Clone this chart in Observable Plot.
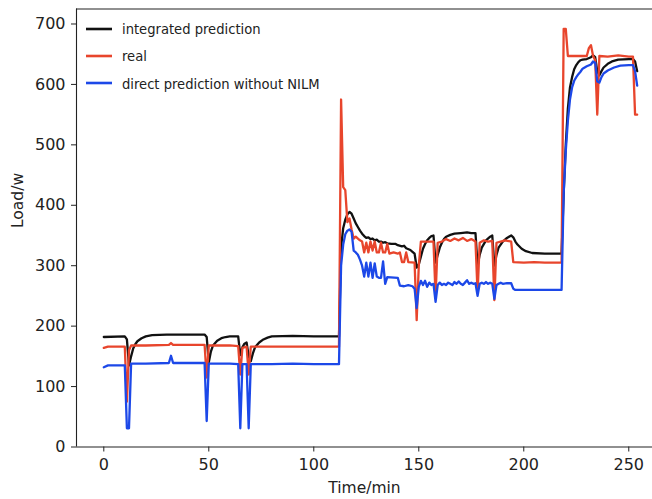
<!DOCTYPE html>
<html>
<head>
<meta charset="utf-8">
<script src="https://cdn.jsdelivr.net/npm/d3@7"></script>
<script src="https://cdn.jsdelivr.net/npm/@observablehq/plot@0.6"></script>
<style>
  html, body { margin: 0; padding: 0; background: #fff; }
  #wrap { position: relative; width: 652px; height: 499px; overflow: hidden; }
  #legend { position: absolute; left: 84px; top: 15px; font-family: "DejaVu Sans Condensed", "DejaVu Sans", sans-serif; font-size: 14.6px; color: #222; }
  #legend .row { display: flex; align-items: center; height: 27.3px; }
  #legend svg { width: 30px; height: 10px; margin-right: 8px; }
</style>
</head>
<body>
<div id="wrap"><div id="legend"></div></div>
<script>
// Series names (legend order)
const seriesNames = ["integrated prediction", "real", "direct prediction without NILM"];

// [time (min), load (w)]
const integrated = [
  [0,182],[10,183],[11,178],[12,135],[13,150],[14,163],[15,170],[16,175],[18,180],[20,183],[23,185],[30,186],[40,186],[48,186],
  [49,182],[50,140],[51,158],[52,168],[54,176],[56,180],[58,182],[60,183],[64,183],[65,152],[66,165],[67,171],[68,173],[69,150],
  [70,142],[71,155],[72,165],[74,173],[76,178],[78,181],[80,183],[90,184],[100,183],[112,183],
  [113,330],[114,362],[115,376],[116,385],[117,389],[118,386],[119,378],[120,370],[121,364],[122,358],[123,353],[124,349],[125,346],
  [126,347],[127,344],[128,345],[129,342],[130,343],[131,340],[132,340],[133,338],[134,339],[135,337],[137,336],[139,336],[140,334],
  [142,332],[143,333],[144,329],[146,326],[147,323],[148,320],[149,297],[150,302],[151,315],[152,328],[153,336],[154,342],[155,346],
  [156,349],[157,350],[158,305],[159,318],[160,330],[161,338],[162,344],[163,348],[165,351],[167,353],[170,354],[173,355],[175,354],
  [177,354],[178,300],[179,318],[180,330],[182,342],[184,348],[185,350],[186,300],[187,318],[188,330],[190,340],[192,346],[194,350],
  [195,347],[196,340],[197,335],[199,328],[201,324],[204,321],[210,320],[218,320],
  [219,420],[220,500],[221,560],[222,595],[223,612],[224,625],[225,632],[226,637],[227,640],[228,641],[230,642],[232,645],[233,648],
  [234,645],[235,622],[236,615],[237,622],[238,628],[240,634],[242,638],[245,641],[250,642],[252,642],[253,638],[254,622]
];

const real = [
  [0,164],[2,166],[10,166],[11,75],[12,160],[13,168],[20,168],[31,169],[32,172],[33,169],[48,169],[49,115],[50,168],[60,168],
  [64,167],[65,120],[66,164],[68,166],[69,120],[70,166],[80,166],[112,166],
  [113,575],[114,430],[115,425],[116,372],[117,378],[118,360],[119,345],[120,348],[121,345],[122,342],[123,340],[124,322],[125,338],
  [126,322],[127,340],[128,325],[129,340],[130,322],[131,322],[132,338],[133,322],[134,322],[135,336],[136,320],[138,322],[140,320],
  [141,322],[142,306],[143,306],[144,322],[145,306],[148,305],[149,210],[150,300],[151,340],[157,340],[158,250],[159,338],[161,340],
  [163,344],[165,341],[167,345],[169,342],[171,346],[173,341],[175,344],[177,340],[178,255],[179,338],[181,342],[183,340],[185,341],
  [186,243],[187,338],[189,340],[191,342],[194,340],[195,306],[200,305],[205,306],[210,305],[218,305],
  [219,692],[220,692],[221,647],[230,647],[231,660],[232,665],[233,647],[234,640],[235,550],[236,647],[240,646],[245,648],[250,646],
  [252,646],[253,550],[254,550]
];

const direct = [
  [0,132],[2,135],[10,135],[11,31],[12,31],[13,138],[20,138],[31,139],[32,151],[33,139],[48,139],[49,43],[50,138],[60,138],
  [64,137],[65,31],[66,137],[68,137],[69,31],[70,137],[80,137],[90,138],[100,137],[112,137],
  [113,300],[114,335],[115,352],[116,358],[117,360],[118,356],[119,325],[120,322],[121,318],[122,310],[123,300],[124,282],[125,305],
  [126,282],[127,305],[128,280],[129,304],[130,282],[131,280],[132,280],[133,307],[134,270],[135,281],[140,280],[141,267],[143,266],
  [145,268],[147,266],[148,262],[149,230],[150,265],[151,275],[152,268],[153,275],[154,265],[155,272],[156,268],[157,270],[158,240],
  [159,268],[160,272],[161,268],[162,270],[163,268],[164,272],[165,270],[166,268],[167,273],[168,270],[169,274],[170,270],[171,268],
  [172,272],[173,276],[174,270],[175,272],[176,270],[177,271],[178,250],[179,270],[180,272],[181,270],[182,273],[183,270],[184,272],
  [185,270],[186,245],[187,268],[188,270],[189,272],[190,270],[192,271],[194,271],[195,262],[196,260],[205,260],[218,260],
  [219,420],[220,490],[221,540],[222,575],[223,595],[224,606],[225,612],[226,617],[227,621],[228,626],[230,630],[232,633],[233,638],
  [234,636],[235,605],[236,603],[237,612],[238,618],[240,623],[243,628],[246,631],[250,632],[252,632],[253,622],[254,598]
];

const xTicks = [0, 50, 100, 150, 200, 250];
const yTicks = [0, 100, 200, 300, 400, 500, 600, 700];
const xLabel = "Time/min";
const yLabel = "Load/w";

const colors = ["#111111", "#e8452c", "#1c48e8"];
const xDomain = [-13, 261.3];
const yDomain = [0, 724.8];
const font = '"DejaVu Sans", sans-serif';

const seriesData = [integrated, real, direct];

const chart = Plot.plot({
  width: 652,
  height: 499,
  marginLeft: 76,
  marginRight: 0,
  marginTop: 8.5,
  marginBottom: 52.5,
  style: { fontFamily: font, fontSize: "16px", color: "#222", background: "transparent", overflow: "visible" },
  x: { domain: xDomain },
  y: { domain: yDomain },
  marks: [
    ...seriesData.map((s, i) => Plot.line(s, { x: d => d[0], y: d => d[1], stroke: colors[i], strokeWidth: 2.3 })),
    Plot.axisX({ ticks: xTicks, tickSize: 5, tickPadding: 7, label: null, stroke: "#222", fill: "#222", fontSize: 16 }),
    Plot.axisY({ ticks: yTicks, tickSize: 5, tickPadding: 6, label: null, stroke: "#222", fill: "#222", fontSize: 16 }),
    Plot.ruleX([xDomain[0]], { stroke: "#222", strokeWidth: 1.1 }),
    Plot.ruleY([yDomain[0]], { stroke: "#222", strokeWidth: 1.1 }),
    Plot.ruleY([yDomain[1]], { stroke: "#222", strokeWidth: 1.1 }),
    Plot.text([xLabel], { frameAnchor: "bottom", dy: 41, lineAnchor: "middle", fill: "#222", fontSize: 15.5 }),
    Plot.text([yLabel], { frameAnchor: "left", dx: -58, rotate: -90, lineAnchor: "middle", fill: "#222", fontSize: 15.5 })
  ]
});
document.getElementById("wrap").prepend(chart);

const legend = document.getElementById("legend");
seriesNames.forEach((name, i) => {
  const row = document.createElement("div");
  row.className = "row";
  row.innerHTML = `<svg viewBox="0 0 30 10"><line x1="2" x2="28" y1="5" y2="5" stroke="${colors[i]}" stroke-width="2.6"/></svg><span>${name}</span>`;
  legend.appendChild(row);
});
</script>
</body>
</html>
